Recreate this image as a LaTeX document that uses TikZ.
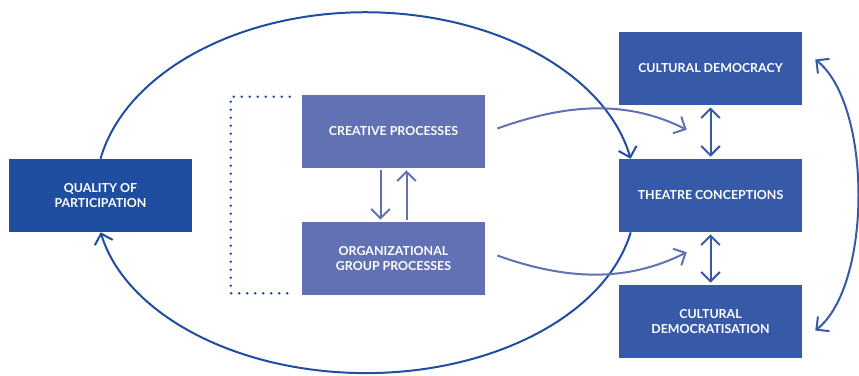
\documentclass[tikz,border=0pt]{standalone}
\usepackage{fontspec}
\setmainfont{Lato}
\usetikzlibrary{arrows.meta,calc}

\definecolor{qualblue}{RGB}{31,77,160}
\definecolor{concblue}{RGB}{54,89,168}
\definecolor{procblue}{RGB}{98,112,180}

\tikzset{
  box/.style={minimum width=137.25pt,minimum height=54.75pt,inner sep=0pt,align=center,
    text=white,font=\fontsize{9.3}{11.5}\selectfont\bfseries},
  loopline/.style={draw=qualblue,line width=1.5pt},
  concline/.style={draw=concblue,line width=1.5pt},
  procline/.style={draw=procblue,line width=1.5pt},
  dotline/.style={draw=qualblue,line width=2.2pt,line cap=round,dash pattern=on 0pt off 6pt}
}

\begin{document}
\begin{tikzpicture}[x=0.75pt,y=0.75pt,yscale=-1,>={Straight Barb[length=7pt,width=14pt]}]
\useasboundingbox (0,0) rectangle (859,375);

%Shape: Rectangle
\node[box,fill=qualblue] (qual) at (100.5,195.5) {QUALITY OF\\PARTICIPATION};
%Shape: Rectangle
\node[box,fill=procblue] (cre) at (393.5,131.5) {CREATIVE PROCESSES};
%Shape: Rectangle
\node[box,fill=procblue] (org) at (393.5,258.5) {ORGANIZATIONAL\\GROUP PROCESSES};
%Shape: Rectangle
\node[box,fill=concblue] (dem) at (710.5,68.5) {CULTURAL DEMOCRACY};
%Shape: Rectangle
\node[box,fill=concblue] (thea) at (710.5,195.5) {THEATRE CONCEPTIONS};
%Shape: Rectangle
\node[box,fill=concblue] (demz) at (710.5,321.5) {CULTURAL\\DEMOCRATISATION};

%Curve Lines
\draw[loopline,->] (qual.north) arc[start angle=191,end angle=349,x radius=270,y radius=181];
\draw[loopline,->] ($(thea.south west)+(12,0)$) arc[start angle=11,end angle=169,x radius=270,y radius=174];

%Dotted bracket
\draw[dotline] ($(cre.north west)+(-12,2)$) -| ($(org.south west)+(-71,-2)$) -- ($(org.south west)+(-12,-2)$);

%Straight Lines
\draw[procline,->] ($(cre.south)+(-13,2)$) -- ($(org.north)+(-13,-2)$);
\draw[procline,->] ($(org.north)+(13,-2)$) -- ($(cre.south)+(13,2)$);

%Curve Lines
\draw[procline,->] ($(cre.east)+(12,-3)$) .. controls +(70,-25) and +(-60,-30) .. ($(thea.north west)+(68,-29)$);
\draw[procline,->] ($(org.east)+(12,-3)$) .. controls +(70,25) and +(-60,30) .. ($(thea.south west)+(68,20)$);

%Straight Lines
\draw[concline,<->] ($(dem.south)+(0,2)$) -- ($(thea.north)+(0,-2)$);
\draw[concline,<->] ($(thea.south)+(0,2)$) -- ($(demz.north)+(0,-2)$);

%Curve Lines
\draw[concline,<->] ($(dem.east)+(13,-9)$) .. controls +(57,45) and +(57,-45) .. ($(demz.east)+(13,9)$);

\end{tikzpicture}
\end{document}
